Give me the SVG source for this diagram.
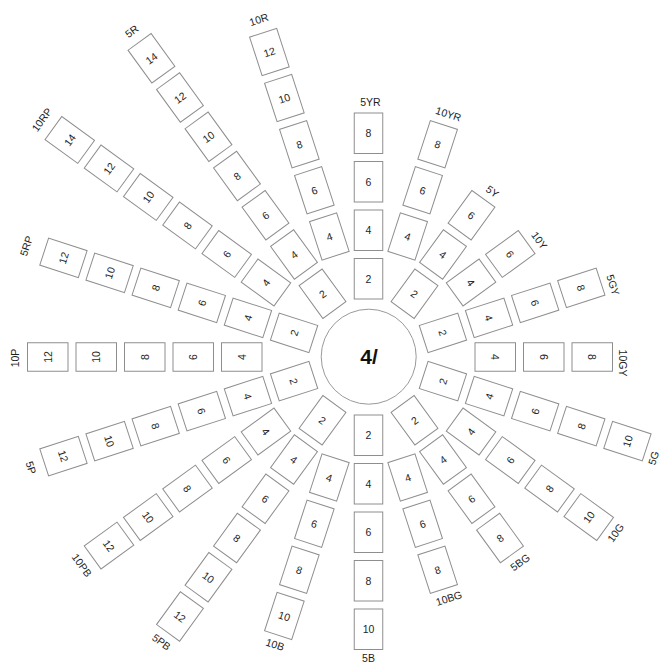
<svg xmlns="http://www.w3.org/2000/svg" width="661" height="665" viewBox="0 0 661 665">
<style>
.b rect{fill:#fff;stroke:#8e8e8e;stroke-width:1}
.n,.l{font-family:"Liberation Sans",Arial,Helvetica,sans-serif;font-size:10.5px;fill:#1e1e1e;text-anchor:middle;dominant-baseline:central}
.c{font-family:"Liberation Sans",Arial,Helvetica,sans-serif;font-size:21px;font-weight:bold;fill:#111;text-anchor:middle;dominant-baseline:central}
</style>
<rect width="661" height="665" fill="#fff"/>
<g id="connectors"/>
<g id="center">
<circle cx="368.7" cy="356.7" r="47.5" fill="none" stroke="#9a9a9a" stroke-width="1"/>
<text class="c" x="369" y="356">4/</text>
</g>

<g id="spoke-5YR" transform="translate(368.5 357) rotate(-90)">
<g id="n5YR-2" class="b"><rect x="58" y="-14.25" width="40.5" height="28.5"/><text class="n" x="78.25" y="0" transform="rotate(90 78.25 0)">2</text></g>
<g id="n5YR-4" class="b"><rect x="106.5" y="-14.25" width="40.5" height="28.5"/><text class="n" x="126.75" y="0" transform="rotate(90 126.75 0)">4</text></g>
<g id="n5YR-6" class="b"><rect x="155" y="-14.25" width="40.5" height="28.5"/><text class="n" x="175.25" y="0" transform="rotate(90 175.25 0)">6</text></g>
<g id="n5YR-8" class="b"><rect x="203.5" y="-14.25" width="40.5" height="28.5"/><text class="n" x="223.75" y="0" transform="rotate(90 223.75 0)">8</text></g>
<text class="l" x="255" y="2" transform="rotate(90 255 2)">5YR</text>
</g>

<g id="spoke-10YR" transform="translate(368.5 357) rotate(-72)">
<g id="n10YR-4" class="b"><rect x="106.5" y="-14.25" width="40.5" height="28.5"/><text class="n" x="126.75" y="0" transform="rotate(90 126.75 0)">4</text></g>
<g id="n10YR-6" class="b"><rect x="155" y="-14.25" width="40.5" height="28.5"/><text class="n" x="175.25" y="0" transform="rotate(90 175.25 0)">6</text></g>
<g id="n10YR-8" class="b"><rect x="203.5" y="-14.25" width="40.5" height="28.5"/><text class="n" x="223.75" y="0" transform="rotate(90 223.75 0)">8</text></g>
<text class="l" x="256" y="1" transform="rotate(90 256 1)">10YR</text>
</g>

<g id="spoke-5Y" transform="translate(368.5 357) rotate(-54)">
<g id="n5Y-2" class="b"><rect x="58" y="-14.25" width="40.5" height="28.5"/><text class="n" x="78.25" y="0" transform="rotate(90 78.25 0)">2</text></g>
<g id="n5Y-4" class="b"><rect x="106.5" y="-14.25" width="40.5" height="28.5"/><text class="n" x="126.75" y="0" transform="rotate(90 126.75 0)">4</text></g>
<g id="n5Y-6" class="b"><rect x="155" y="-14.25" width="40.5" height="28.5"/><text class="n" x="175.25" y="0" transform="rotate(90 175.25 0)">6</text></g>
<text class="l" x="207" y="3" transform="rotate(90 207 3)">5Y</text>
</g>

<g id="spoke-10Y" transform="translate(368.5 357) rotate(-36)">
<g id="n10Y-4" class="b"><rect x="106.5" y="-14.25" width="40.5" height="28.5"/><text class="n" x="126.75" y="0" transform="rotate(90 126.75 0)">4</text></g>
<g id="n10Y-6" class="b"><rect x="155" y="-14.25" width="40.5" height="28.5"/><text class="n" x="175.25" y="0" transform="rotate(90 175.25 0)">6</text></g>
<text class="l" x="207" y="6" transform="rotate(90 207 6)">10Y</text>
</g>

<g id="spoke-5GY" transform="translate(368.5 357) rotate(-18)">
<g id="n5GY-2" class="b"><rect x="58" y="-14.25" width="40.5" height="28.5"/><text class="n" x="78.25" y="0" transform="rotate(90 78.25 0)">2</text></g>
<g id="n5GY-4" class="b"><rect x="106.5" y="-14.25" width="40.5" height="28.5"/><text class="n" x="126.75" y="0" transform="rotate(90 126.75 0)">4</text></g>
<g id="n5GY-6" class="b"><rect x="155" y="-14.25" width="40.5" height="28.5"/><text class="n" x="175.25" y="0" transform="rotate(90 175.25 0)">6</text></g>
<g id="n5GY-8" class="b"><rect x="203.5" y="-14.25" width="40.5" height="28.5"/><text class="n" x="223.75" y="0" transform="rotate(90 223.75 0)">8</text></g>
<text class="l" x="255" y="7" transform="rotate(90 255 7)">5GY</text>
</g>

<g id="spoke-10GY" transform="translate(368.5 357) rotate(0)">
<g id="n10GY-4" class="b"><rect x="106.5" y="-14.25" width="40.5" height="28.5"/><text class="n" x="126.75" y="0" transform="rotate(90 126.75 0)">4</text></g>
<g id="n10GY-6" class="b"><rect x="155" y="-14.25" width="40.5" height="28.5"/><text class="n" x="175.25" y="0" transform="rotate(90 175.25 0)">6</text></g>
<g id="n10GY-8" class="b"><rect x="203.5" y="-14.25" width="40.5" height="28.5"/><text class="n" x="223.75" y="0" transform="rotate(90 223.75 0)">8</text></g>
<text class="l" x="254" y="6" transform="rotate(90 254 6)">10GY</text>
</g>

<g id="spoke-5G" transform="translate(368.5 357) rotate(18)">
<g id="n5G-2" class="b"><rect x="58" y="-14.25" width="40.5" height="28.5"/><text class="n" x="78.25" y="0" transform="rotate(-90 78.25 0)">2</text></g>
<g id="n5G-4" class="b"><rect x="106.5" y="-14.25" width="40.5" height="28.5"/><text class="n" x="126.75" y="0" transform="rotate(-90 126.75 0)">4</text></g>
<g id="n5G-6" class="b"><rect x="155" y="-14.25" width="40.5" height="28.5"/><text class="n" x="175.25" y="0" transform="rotate(-90 175.25 0)">6</text></g>
<g id="n5G-8" class="b"><rect x="203.5" y="-14.25" width="40.5" height="28.5"/><text class="n" x="223.75" y="0" transform="rotate(-90 223.75 0)">8</text></g>
<g id="n5G-10" class="b"><rect x="252" y="-14.25" width="40.5" height="28.5"/><text class="n" x="272.25" y="0" transform="rotate(-90 272.25 0)">10</text></g>
<text class="l" x="302" y="8" transform="rotate(-90 302 8)">5G</text>
</g>

<g id="spoke-10G" transform="translate(368.5 357) rotate(36)">
<g id="n10G-4" class="b"><rect x="106.5" y="-14.25" width="40.5" height="28.5"/><text class="n" x="126.75" y="0" transform="rotate(-90 126.75 0)">4</text></g>
<g id="n10G-6" class="b"><rect x="155" y="-14.25" width="40.5" height="28.5"/><text class="n" x="175.25" y="0" transform="rotate(-90 175.25 0)">6</text></g>
<g id="n10G-8" class="b"><rect x="203.5" y="-14.25" width="40.5" height="28.5"/><text class="n" x="223.75" y="0" transform="rotate(-90 223.75 0)">8</text></g>
<g id="n10G-10" class="b"><rect x="252" y="-14.25" width="40.5" height="28.5"/><text class="n" x="272.25" y="0" transform="rotate(-90 272.25 0)">10</text></g>
<text class="l" x="303" y="-3" transform="rotate(-90 303 -3)">10G</text>
</g>

<g id="spoke-5BG" transform="translate(368.5 357) rotate(54)">
<g id="n5BG-2" class="b"><rect x="58" y="-14.25" width="40.5" height="28.5"/><text class="n" x="78.25" y="0" transform="rotate(-90 78.25 0)">2</text></g>
<g id="n5BG-4" class="b"><rect x="106.5" y="-14.25" width="40.5" height="28.5"/><text class="n" x="126.75" y="0" transform="rotate(-90 126.75 0)">4</text></g>
<g id="n5BG-6" class="b"><rect x="155" y="-14.25" width="40.5" height="28.5"/><text class="n" x="175.25" y="0" transform="rotate(-90 175.25 0)">6</text></g>
<g id="n5BG-8" class="b"><rect x="203.5" y="-14.25" width="40.5" height="28.5"/><text class="n" x="223.75" y="0" transform="rotate(-90 223.75 0)">8</text></g>
<text class="l" x="255" y="-2" transform="rotate(-90 255 -2)">5BG</text>
</g>

<g id="spoke-10BG" transform="translate(368.5 357) rotate(72)">
<g id="n10BG-4" class="b"><rect x="106.5" y="-14.25" width="40.5" height="28.5"/><text class="n" x="126.75" y="0" transform="rotate(-90 126.75 0)">4</text></g>
<g id="n10BG-6" class="b"><rect x="155" y="-14.25" width="40.5" height="28.5"/><text class="n" x="175.25" y="0" transform="rotate(-90 175.25 0)">6</text></g>
<g id="n10BG-8" class="b"><rect x="203.5" y="-14.25" width="40.5" height="28.5"/><text class="n" x="223.75" y="0" transform="rotate(-90 223.75 0)">8</text></g>
<text class="l" x="254" y="-2" transform="rotate(-90 254 -2)">10BG</text>
</g>

<g id="spoke-5B" transform="translate(368.5 357) rotate(90)">
<g id="n5B-2" class="b"><rect x="58" y="-14.25" width="40.5" height="28.5"/><text class="n" x="78.25" y="0" transform="rotate(-90 78.25 0)">2</text></g>
<g id="n5B-4" class="b"><rect x="106.5" y="-14.25" width="40.5" height="28.5"/><text class="n" x="126.75" y="0" transform="rotate(-90 126.75 0)">4</text></g>
<g id="n5B-6" class="b"><rect x="155" y="-14.25" width="40.5" height="28.5"/><text class="n" x="175.25" y="0" transform="rotate(-90 175.25 0)">6</text></g>
<g id="n5B-8" class="b"><rect x="203.5" y="-14.25" width="40.5" height="28.5"/><text class="n" x="223.75" y="0" transform="rotate(-90 223.75 0)">8</text></g>
<g id="n5B-10" class="b"><rect x="252" y="-14.25" width="40.5" height="28.5"/><text class="n" x="272.25" y="0" transform="rotate(-90 272.25 0)">10</text></g>
<text class="l" x="301" y="0" transform="rotate(-90 301 0)">5B</text>
</g>

<g id="spoke-10B" transform="translate(368.5 357) rotate(108)">
<g id="n10B-4" class="b"><rect x="106.5" y="-14.25" width="40.5" height="28.5"/><text class="n" x="126.75" y="0" transform="rotate(-90 126.75 0)">4</text></g>
<g id="n10B-6" class="b"><rect x="155" y="-14.25" width="40.5" height="28.5"/><text class="n" x="175.25" y="0" transform="rotate(-90 175.25 0)">6</text></g>
<g id="n10B-8" class="b"><rect x="203.5" y="-14.25" width="40.5" height="28.5"/><text class="n" x="223.75" y="0" transform="rotate(-90 223.75 0)">8</text></g>
<g id="n10B-10" class="b"><rect x="252" y="-14.25" width="40.5" height="28.5"/><text class="n" x="272.25" y="0" transform="rotate(-90 272.25 0)">10</text></g>
<text class="l" x="302" y="0" transform="rotate(-90 302 0)">10B</text>
</g>

<g id="spoke-5PB" transform="translate(368.5 357) rotate(126)">
<g id="n5PB-2" class="b"><rect x="58" y="-14.25" width="40.5" height="28.5"/><text class="n" x="78.25" y="0" transform="rotate(-90 78.25 0)">2</text></g>
<g id="n5PB-4" class="b"><rect x="106.5" y="-14.25" width="40.5" height="28.5"/><text class="n" x="126.75" y="0" transform="rotate(-90 126.75 0)">4</text></g>
<g id="n5PB-6" class="b"><rect x="155" y="-14.25" width="40.5" height="28.5"/><text class="n" x="175.25" y="0" transform="rotate(-90 175.25 0)">6</text></g>
<g id="n5PB-8" class="b"><rect x="203.5" y="-14.25" width="40.5" height="28.5"/><text class="n" x="223.75" y="0" transform="rotate(-90 223.75 0)">8</text></g>
<g id="n5PB-10" class="b"><rect x="252" y="-14.25" width="40.5" height="28.5"/><text class="n" x="272.25" y="0" transform="rotate(-90 272.25 0)">10</text></g>
<g id="n5PB-12" class="b"><rect x="300.5" y="-14.25" width="40.5" height="28.5"/><text class="n" x="320.75" y="0" transform="rotate(-90 320.75 0)">12</text></g>
<text class="l" x="352" y="0" transform="rotate(-90 352 0)">5PB</text>
</g>

<g id="spoke-10PB" transform="translate(368.5 357) rotate(144)">
<g id="n10PB-4" class="b"><rect x="106.5" y="-14.25" width="40.5" height="28.5"/><text class="n" x="126.75" y="0" transform="rotate(-90 126.75 0)">4</text></g>
<g id="n10PB-6" class="b"><rect x="155" y="-14.25" width="40.5" height="28.5"/><text class="n" x="175.25" y="0" transform="rotate(-90 175.25 0)">6</text></g>
<g id="n10PB-8" class="b"><rect x="203.5" y="-14.25" width="40.5" height="28.5"/><text class="n" x="223.75" y="0" transform="rotate(-90 223.75 0)">8</text></g>
<g id="n10PB-10" class="b"><rect x="252" y="-14.25" width="40.5" height="28.5"/><text class="n" x="272.25" y="0" transform="rotate(-90 272.25 0)">10</text></g>
<g id="n10PB-12" class="b"><rect x="300.5" y="-14.25" width="40.5" height="28.5"/><text class="n" x="320.75" y="0" transform="rotate(-90 320.75 0)">12</text></g>
<text class="l" x="354" y="0" transform="rotate(-90 354 0)">10PB</text>
</g>

<g id="spoke-5P" transform="translate(368.5 357) rotate(162)">
<g id="n5P-2" class="b"><rect x="58" y="-14.25" width="40.5" height="28.5"/><text class="n" x="78.25" y="0" transform="rotate(-90 78.25 0)">2</text></g>
<g id="n5P-4" class="b"><rect x="106.5" y="-14.25" width="40.5" height="28.5"/><text class="n" x="126.75" y="0" transform="rotate(-90 126.75 0)">4</text></g>
<g id="n5P-6" class="b"><rect x="155" y="-14.25" width="40.5" height="28.5"/><text class="n" x="175.25" y="0" transform="rotate(-90 175.25 0)">6</text></g>
<g id="n5P-8" class="b"><rect x="203.5" y="-14.25" width="40.5" height="28.5"/><text class="n" x="223.75" y="0" transform="rotate(-90 223.75 0)">8</text></g>
<g id="n5P-10" class="b"><rect x="252" y="-14.25" width="40.5" height="28.5"/><text class="n" x="272.25" y="0" transform="rotate(-90 272.25 0)">10</text></g>
<g id="n5P-12" class="b"><rect x="300.5" y="-14.25" width="40.5" height="28.5"/><text class="n" x="320.75" y="0" transform="rotate(-90 320.75 0)">12</text></g>
<text class="l" x="355" y="-1" transform="rotate(-90 355 -1)">5P</text>
</g>

<g id="spoke-10P" transform="translate(368.5 357) rotate(-180)">
<g id="n10P-4" class="b"><rect x="106.5" y="-14.25" width="40.5" height="28.5"/><text class="n" x="126.75" y="0" transform="rotate(90 126.75 0)">4</text></g>
<g id="n10P-6" class="b"><rect x="155" y="-14.25" width="40.5" height="28.5"/><text class="n" x="175.25" y="0" transform="rotate(90 175.25 0)">6</text></g>
<g id="n10P-8" class="b"><rect x="203.5" y="-14.25" width="40.5" height="28.5"/><text class="n" x="223.75" y="0" transform="rotate(90 223.75 0)">8</text></g>
<g id="n10P-10" class="b"><rect x="252" y="-14.25" width="40.5" height="28.5"/><text class="n" x="272.25" y="0" transform="rotate(90 272.25 0)">10</text></g>
<g id="n10P-12" class="b"><rect x="300.5" y="-14.25" width="40.5" height="28.5"/><text class="n" x="320.75" y="0" transform="rotate(90 320.75 0)">12</text></g>
<text class="l" x="354" y="-1" transform="rotate(90 354 -1)">10P</text>
</g>

<g id="spoke-5RP" transform="translate(368.5 357) rotate(-162)">
<g id="n5RP-2" class="b"><rect x="58" y="-14.25" width="40.5" height="28.5"/><text class="n" x="78.25" y="0" transform="rotate(90 78.25 0)">2</text></g>
<g id="n5RP-4" class="b"><rect x="106.5" y="-14.25" width="40.5" height="28.5"/><text class="n" x="126.75" y="0" transform="rotate(90 126.75 0)">4</text></g>
<g id="n5RP-6" class="b"><rect x="155" y="-14.25" width="40.5" height="28.5"/><text class="n" x="175.25" y="0" transform="rotate(90 175.25 0)">6</text></g>
<g id="n5RP-8" class="b"><rect x="203.5" y="-14.25" width="40.5" height="28.5"/><text class="n" x="223.75" y="0" transform="rotate(90 223.75 0)">8</text></g>
<g id="n5RP-10" class="b"><rect x="252" y="-14.25" width="40.5" height="28.5"/><text class="n" x="272.25" y="0" transform="rotate(90 272.25 0)">10</text></g>
<g id="n5RP-12" class="b"><rect x="300.5" y="-14.25" width="40.5" height="28.5"/><text class="n" x="320.75" y="0" transform="rotate(90 320.75 0)">12</text></g>
<text class="l" x="360" y="0" transform="rotate(90 360 0)">5RP</text>
</g>

<g id="spoke-10RP" transform="translate(368.5 357) rotate(-144)">
<g id="n10RP-4" class="b"><rect x="106.5" y="-14.25" width="40.5" height="28.5"/><text class="n" x="126.75" y="0" transform="rotate(90 126.75 0)">4</text></g>
<g id="n10RP-6" class="b"><rect x="155" y="-14.25" width="40.5" height="28.5"/><text class="n" x="175.25" y="0" transform="rotate(90 175.25 0)">6</text></g>
<g id="n10RP-8" class="b"><rect x="203.5" y="-14.25" width="40.5" height="28.5"/><text class="n" x="223.75" y="0" transform="rotate(90 223.75 0)">8</text></g>
<g id="n10RP-10" class="b"><rect x="252" y="-14.25" width="40.5" height="28.5"/><text class="n" x="272.25" y="0" transform="rotate(90 272.25 0)">10</text></g>
<g id="n10RP-12" class="b"><rect x="300.5" y="-14.25" width="40.5" height="28.5"/><text class="n" x="320.75" y="0" transform="rotate(90 320.75 0)">12</text></g>
<g id="n10RP-14" class="b"><rect x="349" y="-14.25" width="40.5" height="28.5"/><text class="n" x="369.25" y="0" transform="rotate(90 369.25 0)">14</text></g>
<text class="l" x="404" y="0" transform="rotate(90 404 0)">10RP</text>
</g>

<g id="spoke-5R" transform="translate(368.5 357) rotate(-126)">
<g id="n5R-2" class="b"><rect x="58" y="-14.25" width="40.5" height="28.5"/><text class="n" x="78.25" y="0" transform="rotate(90 78.25 0)">2</text></g>
<g id="n5R-4" class="b"><rect x="106.5" y="-14.25" width="40.5" height="28.5"/><text class="n" x="126.75" y="0" transform="rotate(90 126.75 0)">4</text></g>
<g id="n5R-6" class="b"><rect x="155" y="-14.25" width="40.5" height="28.5"/><text class="n" x="175.25" y="0" transform="rotate(90 175.25 0)">6</text></g>
<g id="n5R-8" class="b"><rect x="203.5" y="-14.25" width="40.5" height="28.5"/><text class="n" x="223.75" y="0" transform="rotate(90 223.75 0)">8</text></g>
<g id="n5R-10" class="b"><rect x="252" y="-14.25" width="40.5" height="28.5"/><text class="n" x="272.25" y="0" transform="rotate(90 272.25 0)">10</text></g>
<g id="n5R-12" class="b"><rect x="300.5" y="-14.25" width="40.5" height="28.5"/><text class="n" x="320.75" y="0" transform="rotate(90 320.75 0)">12</text></g>
<g id="n5R-14" class="b"><rect x="349" y="-14.25" width="40.5" height="28.5"/><text class="n" x="369.25" y="0" transform="rotate(90 369.25 0)">14</text></g>
<text class="l" x="403" y="0" transform="rotate(90 403 0)">5R</text>
</g>

<g id="spoke-10R" transform="translate(368.5 357) rotate(-108)">
<g id="n10R-4" class="b"><rect x="106.5" y="-14.25" width="40.5" height="28.5"/><text class="n" x="126.75" y="0" transform="rotate(90 126.75 0)">4</text></g>
<g id="n10R-6" class="b"><rect x="155" y="-14.25" width="40.5" height="28.5"/><text class="n" x="175.25" y="0" transform="rotate(90 175.25 0)">6</text></g>
<g id="n10R-8" class="b"><rect x="203.5" y="-14.25" width="40.5" height="28.5"/><text class="n" x="223.75" y="0" transform="rotate(90 223.75 0)">8</text></g>
<g id="n10R-10" class="b"><rect x="252" y="-14.25" width="40.5" height="28.5"/><text class="n" x="272.25" y="0" transform="rotate(90 272.25 0)">10</text></g>
<g id="n10R-12" class="b"><rect x="300.5" y="-14.25" width="40.5" height="28.5"/><text class="n" x="320.75" y="0" transform="rotate(90 320.75 0)">12</text></g>
<text class="l" x="355" y="0" transform="rotate(90 355 0)">10R</text>
</g>
</svg>
